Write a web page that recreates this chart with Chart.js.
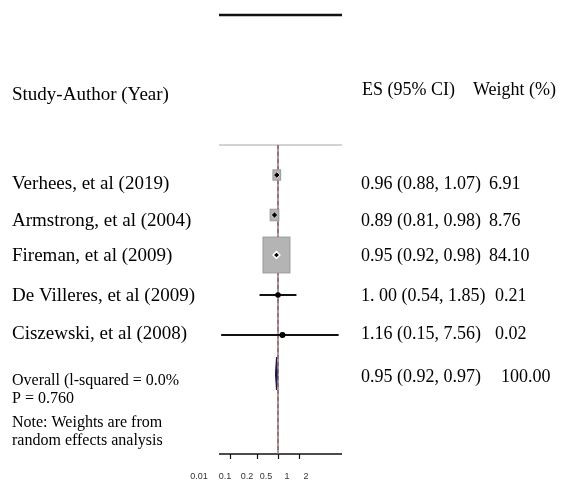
<!DOCTYPE html>
<html>
<head>
<meta charset="utf-8">
<script src="https://cdn.jsdelivr.net/npm/chart.js@4/dist/chart.umd.min.js"></script>
<style>
  body { margin: 0; background: #fff; }
  canvas { display: block; }
</style>
</head>
<body>
<canvas id="forest" width="562" height="482"></canvas>
<script>
// study data (risk ratios on log scale)
const studies = ['Verhees, et al (2019)', 'Armstrong, et al (2004)', 'Fireman, et al (2009)', 'De Villeres, et al (2009)', 'Ciszewski, et al (2008)'];
const es = [0.96, 0.89, 0.95, 1.00, 1.16];
const lower = [0.88, 0.81, 0.92, 0.54, 0.15];
const upper = [1.07, 0.98, 0.98, 1.85, 7.56];
const weights = [6.91, 8.76, 84.10, 0.21, 0.02];
const esLabels = ['0.96 (0.88, 1.07)', '0.89 (0.81, 0.98)', '0.95 (0.92, 0.98)', '1. 00 (0.54, 1.85)', '1.16 (0.15, 7.56)'];
const weightLabels = ['6.91', '8.76', '84.10', '0.21', '0.02'];

const overall = [0.95, 0.92, 0.97];   // es, lower, upper
const overallLabel = '0.95 (0.92, 0.97)';
const overallWeight = '100.00';

const tickValues = [0.2, 0.5, 1, 2];
const tickLabels = ['0.01', '0.1', '0.2', '0.5', '1', '2'];

const rows = studies.map((s, i) => 4 + i);
const overallRow = 8.975;
const yTop = 0, yMax = 10.975, yRule = 3.25;
const xMin = 0.1396, xMax = 8.46;

const serif = '"Liberation Serif", "Times New Roman", serif';

const datasets = [];
// frame lines
datasets.push({ data: [{x: xMin, y: yTop}, {x: xMax, y: yTop}], borderColor: '#111', borderWidth: 2.5, order: 10 });
datasets.push({ data: [{x: xMin, y: yRule}, {x: xMax, y: yRule}], borderColor: '#c4c4c4', borderWidth: 1.5, order: 10 });
datasets.push({ data: [{x: xMin, y: yMax}, {x: xMax, y: yMax}], borderColor: '#111', borderWidth: 1.5, order: 10 });
// null line
datasets.push({ data: [{x: 1, y: yRule}, {x: 1, y: yMax}], borderColor: '#8a8a8a', borderWidth: 1.6, order: 9 });
datasets.push({ data: [{x: 1, y: yRule}, {x: 1, y: yMax}], borderColor: '#a4505a', borderWidth: 1.2, borderDash: [4, 3], order: 8 });
// confidence intervals
studies.forEach((s, i) => {
  datasets.push({
    data: [{x: lower[i], y: rows[i]}, {x: upper[i], y: rows[i]}],
    borderColor: '#111', borderWidth: 2, order: 7,
    boxesAfter: i === 0
  });
});
// overall diamond
datasets.push({
  data: [{x: overall[1], y: overallRow}, {x: overall[0], y: overallRow - 0.42}, {x: overall[2], y: overallRow},
         {x: overall[0], y: overallRow + 0.4}, {x: overall[1], y: overallRow}],
  borderColor: '#16164a', backgroundColor: '#16164a', borderWidth: 1, fill: 'shape', order: 2
});
// point estimates
datasets.push({
  data: es.map((v, i) => ({x: v, y: rows[i]})),
  showLine: false,
  pointStyle: ['rectRot', 'rectRot', 'rectRot', 'circle', 'circle'],
  pointRadius: [3.2, 3.2, 3.4, 2.8, 3],
  pointBackgroundColor: '#000',
  pointBorderColor: ['#eee', '#eee', '#fff', '#000', '#000'],
  pointBorderWidth: [0.8, 0.8, 1.5, 0, 0],
  order: 1
});
datasets.forEach(d => { d.clip = false; if (d.pointRadius === undefined) d.pointRadius = 0; if (d.showLine === undefined) d.showLine = true; });

const boxes = {
  id: 'boxes',
  afterDatasetDraw(chart, args) {
    if (!chart.data.datasets[args.index].boxesAfter) return;
    const ctx = chart.ctx, xs = chart.scales.x, ys = chart.scales.y;
    ctx.save();
    weights.forEach((w, i) => {
      const bw = Math.sqrt(w) * 2.94, bh = bw * 1.33;
      if (bw < 3) return;
      const cx = xs.getPixelForValue(es[i]), cy = ys.getPixelForValue(rows[i]);
      ctx.fillStyle = '#b4b4b4';
      ctx.strokeStyle = '#9a9a9a';
      ctx.lineWidth = 1;
      ctx.fillRect(cx - bw / 2, cy - bh / 2, bw, bh);
      ctx.strokeRect(cx - bw / 2, cy - bh / 2, bw, bh);
    });
    ctx.restore();
  }
};

const texts = {
  id: 'texts',
  afterDraw(chart) {
    const ctx = chart.ctx, xs = chart.scales.x, ys = chart.scales.y;
    ctx.save();
    ctx.fillStyle = '#000';
    ctx.textBaseline = 'middle';
    ctx.font = '19px ' + serif;
    ctx.fillText('Study-Author (Year)', 12, 95);
    ctx.font = '18px ' + serif;
    ctx.fillText('ES (95% CI)', 362, 90);
    ctx.fillText('Weight (%)', 473, 90);
    const nudge = [9, 6, 1, 1, -1];
    const wx = [489, 489, 489, 495, 495];
    studies.forEach((s, i) => {
      const y = ys.getPixelForValue(rows[i]) + nudge[i];
      ctx.font = '19px ' + serif;
      ctx.fillText(s, 12, y);
      ctx.font = '18px ' + serif;
      ctx.fillText(esLabels[i], 361, y);
      ctx.fillText(weightLabels[i], wx[i], y);
    });
    const oy = ys.getPixelForValue(overallRow);
    ctx.fillText(overallLabel, 361, oy + 3);
    ctx.fillText(overallWeight, 501, oy + 3);

    ctx.font = '16px ' + serif;
    ctx.fillText('Overall (l-squared = 0.0%', 12, oy + 7);
    ctx.fillText('P = 0.760', 12, oy + 25);
    ctx.fillText('Note: Weights are from', 12, oy + 49);
    ctx.fillText('random effects analysis', 12, oy + 67);

    // axis ticks
    const ay = ys.getPixelForValue(yMax);
    ctx.strokeStyle = '#111';
    ctx.lineWidth = 1.2;
    tickValues.forEach(v => {
      const tx = Math.round(xs.getPixelForValue(v)) + 0.5;
      ctx.beginPath();
      ctx.moveTo(tx, ay);
      ctx.lineTo(tx, ay + 5);
      ctx.stroke();
    });
    // tick labels (offset as in the source figure)
    ctx.font = '9px "Liberation Sans", Arial, sans-serif';
    ctx.fillStyle = '#333';
    ctx.textAlign = 'center';
    const lx = [199, 225, 247, 266, 287, 306];
    tickLabels.forEach((t, i) => ctx.fillText(t, lx[i], 477));
    ctx.restore();
  }
};

new Chart(document.getElementById('forest'), {
  type: 'scatter',
  data: { datasets: datasets },
  options: {
    responsive: false,
    animation: false,
    devicePixelRatio: 1,
    layout: { padding: { left: 219, right: 220, top: 15, bottom: 28 } },
    scales: {
      x: { type: 'logarithmic', min: xMin, max: xMax, display: false },
      y: { type: 'linear', min: yTop, max: yMax, reverse: true, display: false }
    },
    plugins: { legend: { display: false }, tooltip: { enabled: false } },
    elements: { line: { tension: 0 } }
  },
  plugins: [boxes, texts]
});
</script>
</body>
</html>
